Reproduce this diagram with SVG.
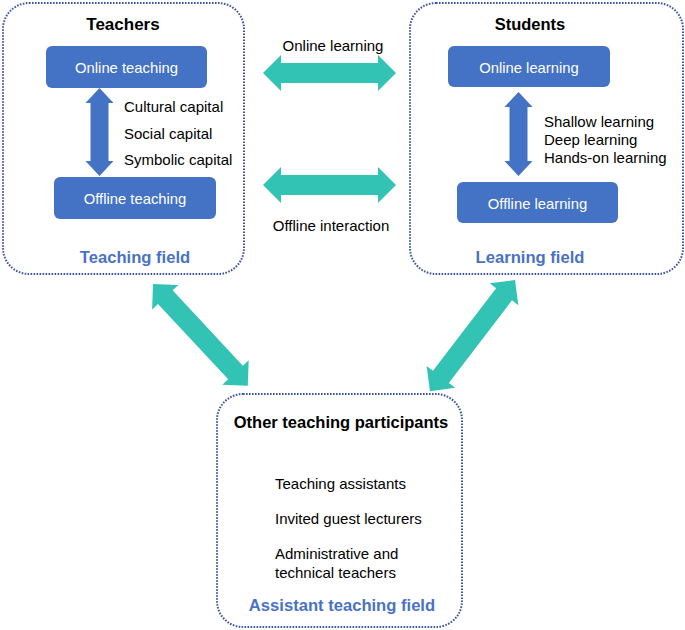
<svg xmlns="http://www.w3.org/2000/svg" width="685" height="630" viewBox="0 0 685 630">
<style>
.field{fill:#fff;stroke:#3b54a0;stroke-width:2;stroke-dasharray:1.6 1.4}
.box{fill:#4472c4}
.bt{font-family:"Liberation Sans",Arial,sans-serif;font-size:14.8px;fill:#fff;text-anchor:middle}
.lab{font-family:"Liberation Sans",Arial,sans-serif;font-size:15px;fill:#000}
.head{font-family:"Liberation Sans",Arial,sans-serif;font-size:16.5px;font-weight:bold;fill:#000;text-anchor:middle}
.fl{font-family:"Liberation Sans",Arial,sans-serif;font-size:16.6px;font-weight:bold;fill:#4a72c4;text-anchor:middle}
.teal{fill:#33c3b4}
.blue{fill:#4472c4}
</style>
<rect width="685" height="630" fill="#fff"/>
<g id="teaching-field">
<rect class="field" x="3" y="3" width="241" height="271" rx="26"/>
<text class="head" x="123" y="30" style="font-size:17px">Teachers</text>
<text class="fl" x="135" y="263">Teaching field</text>
</g>
<g id="online-teaching">
<rect class="box" x="46" y="46" width="161" height="42" rx="6"/>
<text class="bt" x="126.5" y="73">Online teaching</text>
</g>
<g id="offline-teaching">
<rect class="box" x="54" y="177" width="162" height="42" rx="6"/>
<text class="bt" x="135" y="204">Offline teaching</text>
</g>
<g id="learning-field">
<rect class="field" x="410" y="3" width="273" height="271" rx="26"/>
<text class="head" x="530" y="30">Students</text>
<text class="fl" x="530" y="263">Learning field</text>
</g>
<g id="online-learning">
<rect class="box" x="448" y="46" width="162" height="41" rx="6"/>
<text class="bt" x="529" y="72.5">Online learning</text>
</g>
<g id="offline-learning">
<rect class="box" x="457" y="182" width="161" height="41" rx="6"/>
<text class="bt" x="537.5" y="208.5">Offline learning</text>
</g>
<g id="assistant-field">
<rect class="field" x="217" y="394" width="245" height="233" rx="26"/>
<text class="head" x="341" y="428">Other teaching participants</text>
<text class="lab" x="275" y="489">Teaching assistants</text>
<text class="lab" x="275" y="524">Invited guest lecturers</text>
<text class="lab" x="275" y="559">Administrative and</text>
<text class="lab" x="275" y="578">technical teachers</text>
<text class="fl" x="342" y="611">Assistant teaching field</text>
</g>
<g id="connectors">
<path class="blue" d="M99.5,88 L113.5,103 L108.5,103 L108.5,161 L113.5,161 L99.5,176 L85.5,161 L90.5,161 L90.5,103 L85.5,103 Z"/>
<path class="blue" d="M518.5,92 L532.5,107 L527.5,107 L527.5,161 L532.5,161 L518.5,176 L504.5,161 L509.5,161 L509.5,107 L504.5,107 Z"/>
<path class="teal" d="M263,73 L281,55 L281,63 L378,63 L378,55 L396,73 L378,91 L378,83 L281,83 L281,91 Z"/>
<path class="teal" d="M263,185 L281,167 L281,175 L378,175 L378,167 L396,185 L378,203 L378,195 L281,195 L281,203 Z"/>
<path class="teal" transform="translate(153,284) rotate(47)" d="M0,0 L18,-18 L18,-10 L121,-10 L121,-18 L139,0 L121,18 L121,10 L18,10 L18,18 Z"/>
<path class="teal" transform="translate(515,280) rotate(127.4)" d="M0,0 L18,-18 L18,-10 L122,-10 L122,-18 L140,0 L122,18 L122,10 L18,10 L18,18 Z"/>
<text class="lab" x="124" y="112">Cultural capital</text>
<text class="lab" x="124" y="139">Social capital</text>
<text class="lab" x="124" y="165">Symbolic capital</text>
<text class="lab" x="544" y="127">Shallow learning</text>
<text class="lab" x="544" y="145">Deep learning</text>
<text class="lab" x="544" y="163">Hands-on learning</text>
<text class="lab" x="333" y="51" text-anchor="middle">Online learning</text>
<text class="lab" x="331" y="231" text-anchor="middle">Offline interaction</text>
</g>
</svg>
